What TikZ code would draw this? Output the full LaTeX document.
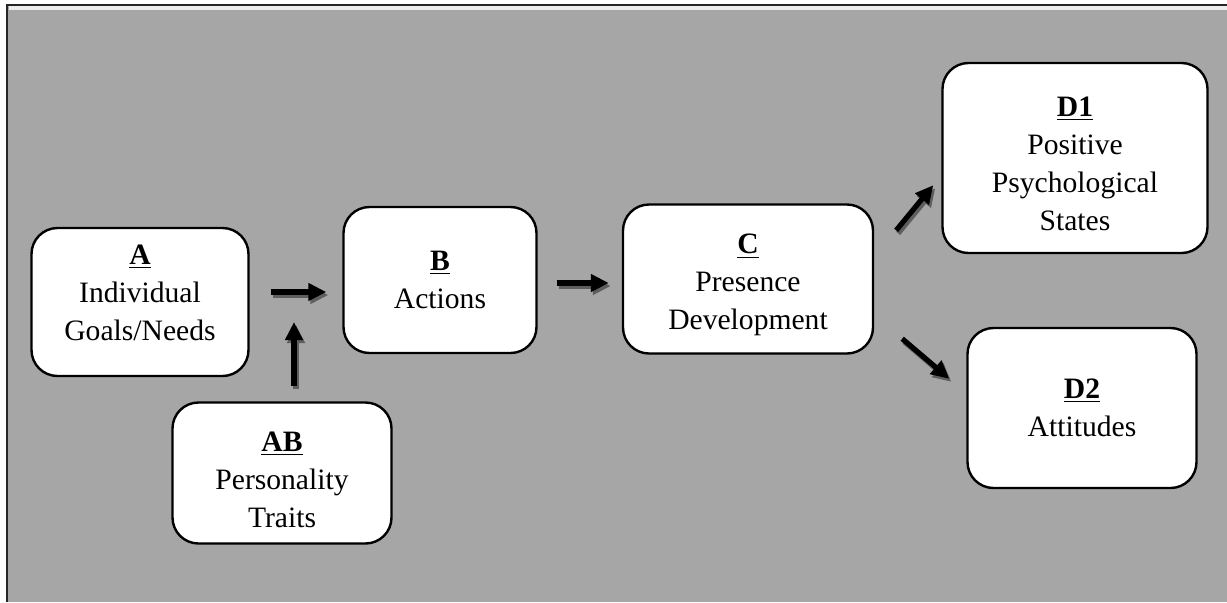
\documentclass[tikz,border=0pt]{standalone}
\usepackage{fontspec}
\setmainfont{Liberation Serif}
\usetikzlibrary{positioning,arrows.meta}
\definecolor{panelgray}{HTML}{A6A6A6}
\definecolor{shadowgray}{HTML}{5E5E5E}

\begin{document}
\begin{tikzpicture}[x=0.5pt,y=-0.5pt,
    box/.style={rectangle,draw,line width=1.2pt,fill=white,rounded corners=13pt,
                align=center,inner sep=0pt,font=\fontsize{14.8}{19}\selectfont},
    flow/.style={line width=2.6pt,-{Triangle[length=9pt,width=8.5pt]}},
    flowshadow/.style={flow,draw=shadowgray,transform canvas={xshift=1pt,yshift=-1.5pt}} ]
% Background panel
   \useasboundingbox (0,0) rectangle (1227,602);
   \fill[panelgray] (7,5) rectangle (1227,602);
   \draw[white!80!panelgray,line width=2pt] (9,8) -- (1227,8);
   \draw[black!85,line width=1.2pt] (1227,5) -- (7,5) -- (7,602);
% Boxes
   \node [box,minimum width=108.5pt,minimum height=74pt]   (A)  at (140,302)   {\underline{\textbf{A}}\\Individual\\Goals/Needs\\[-10pt]\mbox{}};
   \node [box,minimum width=109.5pt,minimum height=70.5pt] (AB) at (282,473)   {\mbox{}\\[-2.5pt]\underline{\textbf{AB}}\\Personality\\Traits};
   \node [box,minimum width=96.5pt,minimum height=73pt]    (B)  at (440,280)   {\underline{\textbf{B}}\\Actions};
   \node [box,minimum width=125pt,minimum height=74.5pt]   (C)  at (748,279)   {\mbox{}\\[-3pt]\underline{\textbf{C}}\\Presence\\Development};
   \node [box,minimum width=132.5pt,minimum height=95pt]   (D1) at (1075,158)  {\mbox{}\\[-3.5pt]\underline{\textbf{D1}}\\Positive\\Psychological\\States};
   \node [box,minimum width=114.5pt,minimum height=80pt]   (D2) at (1082,408)  {\underline{\textbf{D2}}\\Attitudes};
   \coordinate (join) at (294,292);
% Arrows (shadow first)
   \foreach \st in {flowshadow,flow} {
     \draw [\st,shorten <=10.5pt,shorten >=8pt]   (A.east |- join) -- (B.west |- join);
     \draw [\st,shorten <=7.5pt,shorten >=15pt]   (AB.north -| join) -- (join);
     \draw [\st,shorten <=9.5pt,shorten >=6.5pt]  ([yshift=-1.5pt]B.east) -- ([yshift=-2pt]C.west);
     \draw [\st] ([shift={(22,27)}]C.north east) -- ([shift={(-8,-69)}]D1.south west);
     \draw [\st] ([shift={(28,-16)}]C.south east) -- ([shift={(-17,52)}]D2.north west);
   }
\end{tikzpicture}
\end{document}
